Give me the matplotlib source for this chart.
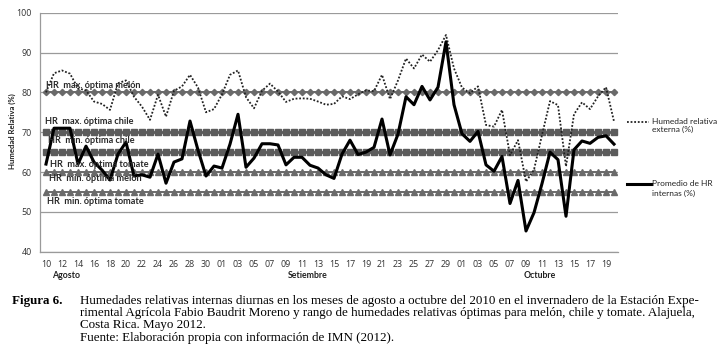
import matplotlib
matplotlib.use("Agg")
import matplotlib.pyplot as plt
import numpy as np

# ---------------- data ----------------
day_labels = (["10", "11", "12", "13", "14", "15", "16", "17", "18", "19", "20", "21",
               "22", "23", "24", "25", "26", "27", "28", "29", "30", "31"] +
              ["%02d" % d for d in range(1, 31)] +
              ["%02d" % d for d in range(1, 21)])

hr_interna = [62, 71, 71, 71, 62, 66.5, 62.5, 60.5, 58, 64.5, 67.5, 59,
              59.3, 58.7, 64.5, 57.2, 62.5, 63.3, 72.8, 65.5, 59, 61.5,
              61, 67, 74.5, 61.2, 63.5, 67.1, 67.1, 66.8, 61.8, 63.7, 63.7, 61.7,
              61, 59.3, 58.4, 64.5, 68, 64.4, 65, 66.2, 73.3, 64.3, 69.5, 78.9,
              76.9, 81.5, 78.1, 81.3, 92.7, 76.9,
              69.6, 67.7, 70.2, 61.8, 60.2, 63.9, 52.1, 57.9, 45.2, 49.8, 57.1,
              65, 63.1, 48.9, 65.6, 67.8, 67.2, 68.7, 69.1, 67]

hr_externa = [80, 84.8, 85.5, 84.7, 81, 80.5, 77.7, 77.1, 75.6, 82.3, 83, 78.9,
              76.4, 73.1, 79.4, 73.9, 80.4, 81.5, 84.4, 81.2, 75, 75.8,
              79.5, 84.4, 85.5, 78.8, 76, 80.4, 82.2, 80.2, 77.6, 78.4, 78.5, 78.4,
              77.7, 76.9, 77.1, 79, 78.3, 79.5, 80.5, 80.3, 84.4, 78.3, 83, 88.5,
              86, 89.5, 87.7, 90.6, 94.4, 86,
              81.2, 79.8, 81.5, 71.8, 71.4, 75.6, 64.2, 68, 57.6, 60.6, 69.3,
              77.8, 76.8, 61.4, 74.5, 77.5, 75.8, 79, 81.3, 72.7]

ref_names = ["HR  max. óptima melón", "HR  max. óptima chile", "HR  min. óptima chile",
             "HR  max. óptima tomate", "HR  min. óptima melón", "HR  min. óptima tomate"]
ref_values = [80, 70, 65, 60, 60, 55]

months = ["Agosto", "Setiembre", "Octubre"]

# ---------------- figure ----------------
W, H = 719, 364
fig = plt.figure(figsize=(W / 100, H / 100), dpi=100)
fig.patch.set_facecolor("white")

x0, x1, ytop, ybot = 40, 618, 12.7, 251.7
ax = fig.add_axes([x0 / W, 1 - ybot / H, (x1 - x0) / W, (ybot - ytop) / H])

n = len(hr_interna)
x = np.arange(n)

ax.set_xlim(-0.75, n - 0.5)
ax.set_ylim(40, 100)
ax.set_yticks(range(40, 101, 10))
ax.grid(axis="y", color="#9a9a9a", lw=0.9, zorder=0)
ax.set_axisbelow(True)
for s in ["top", "right"]:
    ax.spines[s].set_visible(False)
for s in ["left", "bottom"]:
    ax.spines[s].set_color("#9a9a9a")
    ax.spines[s].set_linewidth(0.9)

tick_font = dict(family="Open Sans", size=6.4, color="#333333")
ax.set_xticks(x[::2])
ax.set_xticklabels(day_labels[::2], **tick_font)
ax.set_yticklabels([str(v) for v in range(40, 101, 10)], **tick_font)
ax.tick_params(axis="both", length=0, pad=6)
ax.tick_params(axis="x", pad=6)

# reference lines
ref_styles = {80: dict(color="#6a6a6a", lw=1.4, marker="D", ms=3.2),
              70: dict(color="#5c5c5c", lw=2.0, marker="s", ms=5.0),
              65: dict(color="#5c5c5c", lw=2.0, marker="s", ms=5.0),
              60: dict(color="#6a6a6a", lw=1.4, marker="^", ms=3.8),
              55: dict(color="#6a6a6a", lw=1.4, marker="^", ms=3.8)}
for v in sorted(set(ref_values)):
    st = ref_styles[v]
    ax.plot(x, [v] * n, color=st["color"], lw=st["lw"], marker=st["marker"],
            ms=st["ms"], mec=st["color"], mfc=st["color"], zorder=2)

# reference text labels (pixel positions)
label_pos = [(46, 86), (45, 122), (48, 141), (50, 165), (49, 178.5), (47, 201)]
for name, (px, py) in zip(ref_names, label_pos):
    fig.text(px / W, 1 - py / H, name, family="Lato", weight="bold", size=6.6,
             color="#2a2a2a", va="center", ha="left", zorder=3)

# data
ax.plot(x, hr_externa, color="#222222", lw=1.3, ls=(0, (1, 1.0)), zorder=4,
        label="Humedad relativa externa (%)")
ax.plot(x, hr_interna, color="black", lw=2.2, zorder=5,
        label="Promedio de HR internas (%)")

# y label
fig.text(12 / W, 1 - 131 / H, "Humedad Relativa (%)", rotation=90, family="Lato",
         weight="bold", size=5.6, color="#222222", ha="center", va="center")

# month labels
for m, px in zip(months, [66, 308, 540]):
    fig.text(px / W, 1 - 276 / H, m, family="Lato", weight="bold", size=6.3,
             color="#222222", ha="center", va="center")

# legend (manual)
leg = fig.add_axes([0, 0, 1, 1], facecolor="none")
leg.set_xlim(0, W)
leg.set_ylim(H, 0)
leg.axis("off")
leg.plot([627, 649], [122, 122], color="#222222", lw=1.3, ls=(0, (1, 1.0)))
leg.plot([627, 651], [184, 184], color="black", lw=2.2)
lfont = dict(family="Lato", size=6.0, color="#222222", va="center", ha="left")
leg.text(652, 121, "Humedad relativa", **lfont)
leg.text(652, 129.5, "externa (%)", **lfont)
leg.text(652, 184, "Promedio de HR", **lfont)
leg.text(652, 193, "internas (%)", **lfont)

# caption
cfont = dict(family="Liberation Serif", size=9.4, color="black", va="center", ha="left")
leg.text(12, 301, "Figura 6.", weight="bold", **cfont)
caption = ["Humedades relativas internas diurnas en los meses de agosto a octubre del 2010 en el invernadero de la Estación Expe-",
           "rimental Agrícola Fabio Baudrit Moreno y rango de humedades relativas óptimas para melón, chile y tomate. Alajuela,",
           "Costa Rica. Mayo 2012.",
           "Fuente: Elaboración propia con información de IMN (2012)."]
for k, line in enumerate(caption):
    leg.text(80, 301 + 12.2 * k, line, **cfont)

fig.savefig("out.png", dpi=100, facecolor="white")
